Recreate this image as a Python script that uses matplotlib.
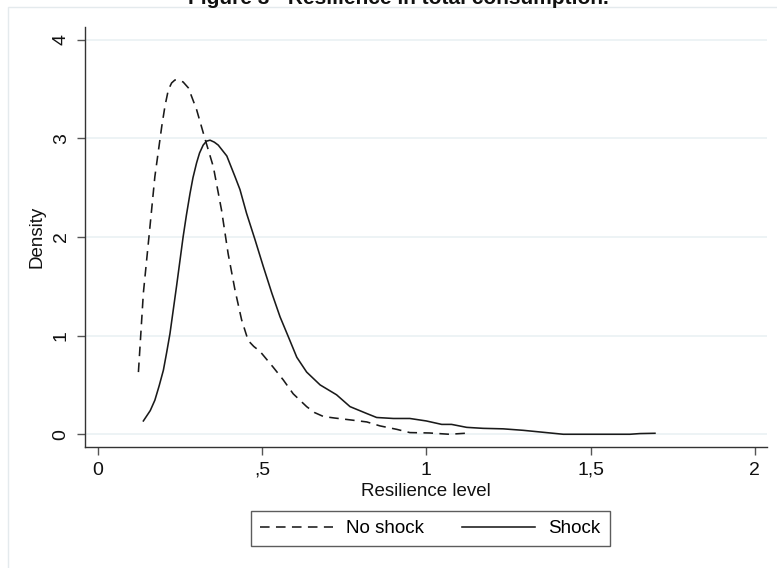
import matplotlib
matplotlib.use("Agg")
import matplotlib.pyplot as plt
from matplotlib.patches import Rectangle
from matplotlib.ticker import FixedLocator, FixedFormatter

plt.rcParams['font.family'] = ['Liberation Sans', 'DejaVu Sans']

title = "Figure 3 - Resilience in total consumption."
x_label = "Resilience level"
y_label = "Density"
x_ticks = [0, 0.5, 1, 1.5, 2]
x_tick_labels = ["0", ",5", "1", "1,5", "2"]
y_ticks = [0, 1, 2, 3, 4]
y_tick_labels = ["0", "1", "2", "3", "4"]

no_shock_x = [0.124, 0.139, 0.159, 0.174, 0.195, 0.205, 0.215, 0.225, 0.235, 0.245, 0.26,
              0.276, 0.301, 0.326, 0.352, 0.377, 0.397, 0.418, 0.438, 0.458, 0.475,
              0.494, 0.534, 0.565, 0.595, 0.636, 0.66, 0.687, 0.72, 0.758, 0.819,
              0.859, 0.91, 0.95, 1.01, 1.07, 1.133]
no_shock_y = [0.63, 1.43, 2.10, 2.61, 3.12, 3.33, 3.49, 3.56, 3.59, 3.59, 3.57,
              3.51, 3.29, 3.00, 2.71, 2.27, 1.83, 1.46, 1.16, 0.95, 0.89,
              0.84, 0.68, 0.55, 0.41, 0.28, 0.22, 0.18, 0.165, 0.15, 0.125,
              0.085, 0.05, 0.017, 0.013, 0.0, 0.013]

shock_x = [0.139, 0.16, 0.174, 0.187, 0.2, 0.21, 0.22, 0.23, 0.24, 0.25, 0.26, 0.27,
           0.281, 0.29, 0.301, 0.31, 0.321, 0.331, 0.342, 0.355, 0.367,
           0.393, 0.418, 0.433, 0.453, 0.479, 0.504, 0.53, 0.555, 0.58, 0.606,
           0.636, 0.677, 0.727, 0.768, 0.819, 0.849, 0.90, 0.95, 1.00, 1.047,
           1.077, 1.123, 1.173, 1.234, 1.295, 1.356, 1.417, 1.518, 1.62, 1.65, 1.696]
shock_y = [0.135, 0.24, 0.345, 0.49, 0.65, 0.83, 1.02, 1.26, 1.5, 1.75, 2.0, 2.22,
           2.44, 2.6, 2.75, 2.85, 2.93, 2.97, 2.98, 2.96, 2.93,
           2.82, 2.61, 2.48, 2.24, 1.97, 1.70, 1.43, 1.19, 0.99, 0.78,
           0.63, 0.50, 0.40, 0.28, 0.21, 0.17, 0.16, 0.16, 0.135, 0.10,
           0.10, 0.07, 0.06, 0.055, 0.04, 0.02, 0.0, 0.0, 0.0, 0.007, 0.01]

W, H = 777, 568
fig = plt.figure(figsize=(W / 100, H / 100), dpi=100)
fig.patch.set_facecolor('white')

# outer graph-region frame
fig.patches.append(Rectangle((8 / W, -0.1), 1.2, 1.1 - 7 / H, transform=fig.transFigure,
                             fill=False, edgecolor='#e4eaed', lw=1.0))

ax = fig.add_axes([85 / W, 1 - 446.7 / H, (767 - 85) / W, (446.7 - 27.3) / H])
ax.set_xlim(-0.0386, 2.037)
ax.set_ylim(-0.126, 4.124)

for yv in y_ticks:
    ax.axhline(yv, color='#eaf1f3', lw=1.2, zorder=0)

line_col = '#1a1a1a'
ax.plot(no_shock_x, no_shock_y, color=line_col, lw=1.15, linestyle=(0, (6, 4)),
        label='No shock')
ax.plot(shock_x, shock_y, color=line_col, lw=1.15, label='Shock')

for s in ['top', 'right']:
    ax.spines[s].set_visible(False)
for s in ['left', 'bottom']:
    ax.spines[s].set_color('#333333')
    ax.spines[s].set_linewidth(1.0)

ax.xaxis.set_major_locator(FixedLocator(x_ticks))
ax.xaxis.set_major_formatter(FixedFormatter(x_tick_labels))
ax.yaxis.set_major_locator(FixedLocator(y_ticks))
ax.yaxis.set_major_formatter(FixedFormatter(y_tick_labels))
ax.tick_params(axis='both', direction='out', length=6, width=1.0, color='#555555',
               labelsize=14, labelcolor='#111111', pad=5)
ax.tick_params(axis='y', length=6, labelrotation=90)
for lab in ax.get_yticklabels():
    lab.set_va('center')

ax.set_xlabel(x_label, fontsize=13.5, color='#111111', labelpad=3)
ax.set_ylabel(y_label, fontsize=13.5, color='#111111', labelpad=5)

leg = fig.legend(loc='center', bbox_to_anchor=(430 / W, 1 - 528.5 / H), ncol=2,
                 fontsize=13.5, frameon=True, fancybox=False, handlelength=3.9,
                 handletextpad=0.7, columnspacing=2.0, borderpad=0.5)
leg.get_frame().set_edgecolor('#333333')
leg.get_frame().set_linewidth(1.0)

fig.text(398 / W, 1 - 4 / H, title, ha='center', va='baseline', fontsize=15,
         fontweight='bold', color='#111111')

fig.savefig('out.png', dpi=100)
